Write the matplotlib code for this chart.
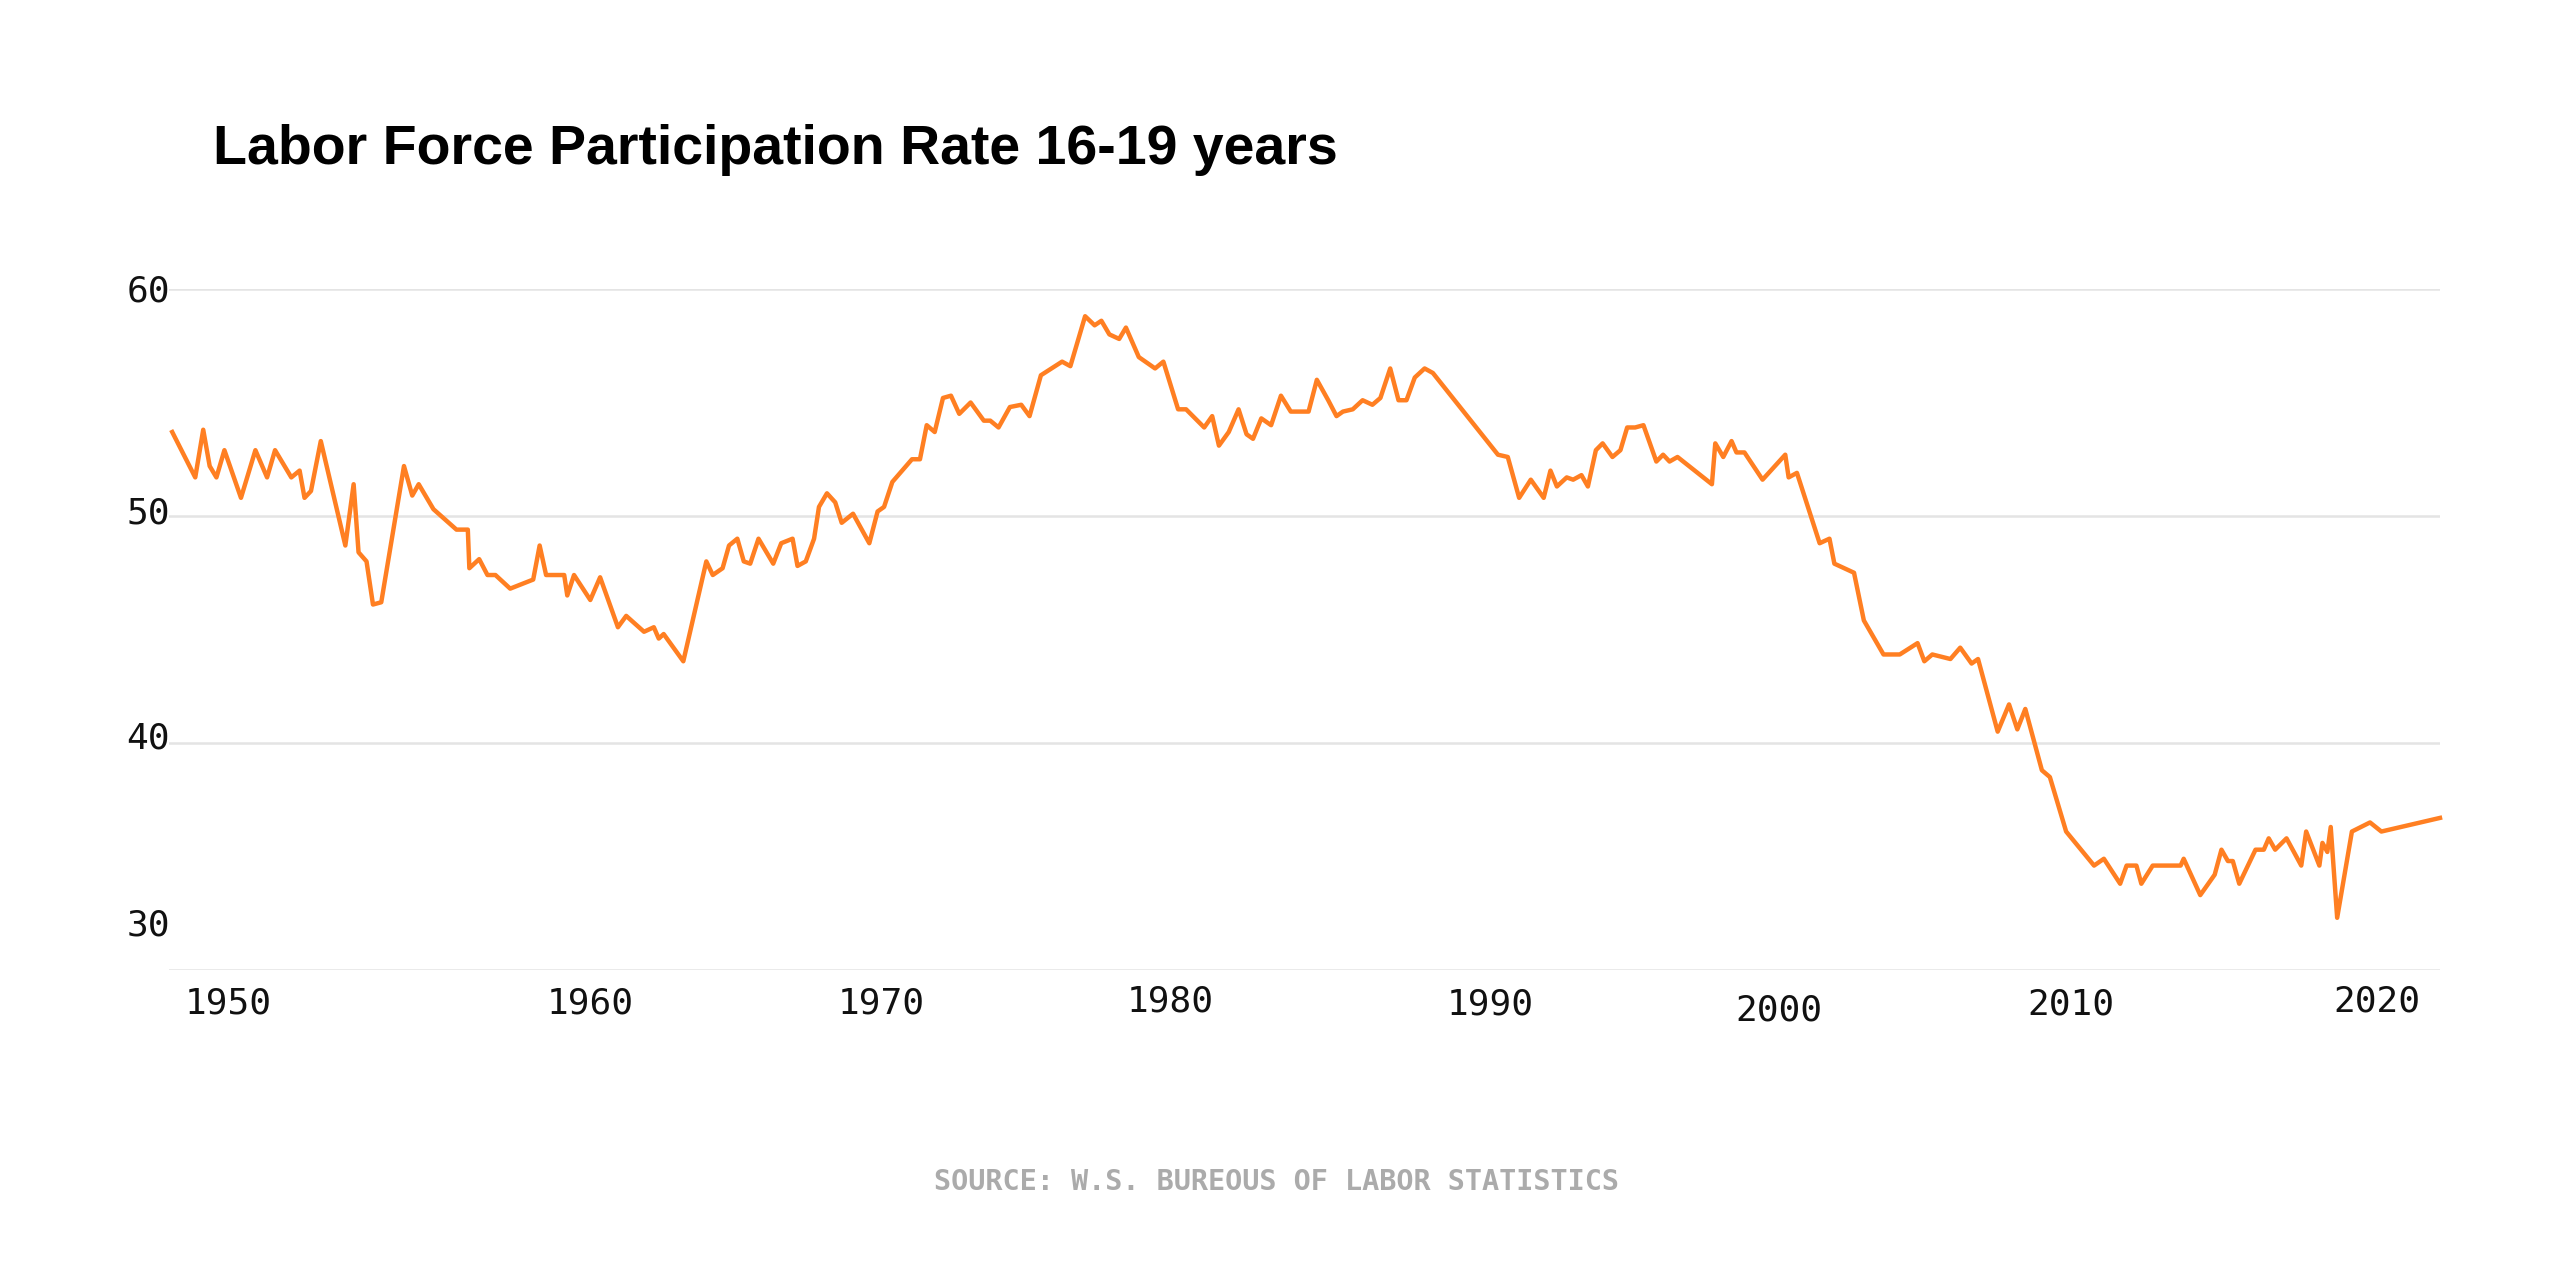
import matplotlib.pyplot as plt
from matplotlib.transforms import offset_copy

# values (x in fractional years)
years = [
    1948.19, 1948.94, 1949.20, 1949.41, 1949.63, 1949.89, 1950.43, 1950.90, 1951.28, 1951.54,
    1952.07, 1952.34, 1952.50, 1952.71, 1953.03, 1953.83, 1954.10, 1954.26, 1954.52, 1954.73,
    1955.00, 1955.74, 1956.01, 1956.22, 1956.70, 1957.45, 1957.82, 1957.87, 1958.19, 1958.46,
    1958.72, 1959.20, 1959.95, 1960.16, 1960.37, 1960.96, 1961.06, 1961.28, 1961.81, 1962.13,
    1962.71, 1962.98, 1963.56, 1963.88, 1964.04, 1964.20, 1964.84, 1965.59, 1965.80, 1966.12,
    1966.33, 1966.60, 1966.81, 1967.02, 1967.29, 1967.77, 1968.03, 1968.40, 1968.56, 1968.83,
    1969.10, 1969.26, 1969.52, 1969.79, 1970.00, 1970.37, 1970.90, 1971.17, 1971.38, 1971.65,
    1972.29, 1972.55, 1972.77, 1973.03, 1973.30, 1973.56, 1973.83, 1974.20, 1974.63, 1974.84,
    1975.11, 1975.48, 1975.85, 1976.12, 1976.49, 1977.18, 1977.45, 1977.93, 1978.24, 1978.46,
    1978.72, 1979.04, 1979.26, 1979.68, 1980.21, 1980.48, 1980.96, 1981.22, 1981.81, 1982.07,
    1982.29, 1982.61, 1982.93, 1983.19, 1983.40, 1983.67, 1983.99, 1984.31, 1984.63, 1985.21,
    1985.48, 1985.85, 1986.12, 1986.33, 1986.65, 1986.97, 1987.29, 1987.55, 1987.87, 1988.14,
    1988.40, 1988.67, 1988.99, 1989.26, 1991.38, 1991.70, 1992.07, 1992.45, 1992.87, 1993.09,
    1993.30, 1993.62, 1993.83, 1994.10, 1994.31, 1994.57, 1994.79, 1995.11, 1995.37, 1995.59,
    1995.85, 1996.12, 1996.54, 1996.76, 1996.97, 1997.23, 1998.35, 1998.46, 1998.72, 1998.99,
    1999.15, 1999.41, 2000.00, 2000.74, 2000.85, 2001.12, 2001.86, 2002.18, 2002.34, 2002.98,
    2003.30, 2003.94, 2004.47, 2005.05, 2005.27, 2005.53, 2006.12, 2006.44, 2006.81, 2007.02,
    2007.66, 2008.03, 2008.30, 2008.56, 2009.10, 2009.36, 2009.89, 2010.80, 2011.12, 2011.65,
    2011.86, 2012.18, 2012.34, 2012.71, 2013.62, 2013.72, 2014.26, 2014.73, 2014.95, 2015.16,
    2015.32, 2015.53, 2016.06, 2016.33, 2016.49, 2016.70, 2017.07, 2017.55, 2017.71, 2018.14,
    2018.24, 2018.40, 2018.51, 2018.72, 2019.20, 2019.79, 2020.16, 2022.07,
]
rate = [
    53.7, 51.7, 53.8, 52.2, 51.7, 52.9, 50.8, 52.9, 51.7, 52.9,
    51.7, 52.0, 50.8, 51.1, 53.3, 48.7, 51.4, 48.4, 48.0, 46.1,
    46.2, 52.2, 50.9, 51.4, 50.3, 49.4, 49.4, 47.7, 48.1, 47.4,
    47.4, 46.8, 47.2, 48.7, 47.4, 47.4, 46.5, 47.4, 46.3, 47.3,
    45.1, 45.6, 44.9, 45.1, 44.6, 44.8, 43.6, 48.0, 47.4, 47.7,
    48.7, 49.0, 48.0, 47.9, 49.0, 47.9, 48.8, 49.0, 47.8, 48.0,
    49.0, 50.4, 51.0, 50.6, 49.7, 50.1, 48.8, 50.2, 50.4, 51.5,
    52.5, 52.5, 54.0, 53.7, 55.2, 55.3, 54.5, 55.0, 54.2, 54.2,
    53.9, 54.8, 54.9, 54.4, 56.2, 56.8, 56.6, 58.8, 58.4, 58.6,
    58.0, 57.8, 58.3, 57.0, 56.5, 56.8, 54.7, 54.7, 53.9, 54.4,
    53.1, 53.7, 54.7, 53.6, 53.4, 54.3, 54.0, 55.3, 54.6, 54.6,
    56.0, 55.1, 54.4, 54.6, 54.7, 55.1, 54.9, 55.2, 56.5, 55.1,
    55.1, 56.1, 56.5, 56.3, 52.7, 52.6, 50.8, 51.6, 50.8, 52.0,
    51.3, 51.7, 51.6, 51.8, 51.3, 52.9, 53.2, 52.6, 52.9, 53.9,
    53.9, 54.0, 52.4, 52.7, 52.4, 52.6, 51.4, 53.2, 52.6, 53.3,
    52.8, 52.8, 51.6, 52.7, 51.7, 51.9, 48.8, 49.0, 47.9, 47.5,
    45.4, 43.9, 43.9, 44.4, 43.6, 43.9, 43.7, 44.2, 43.5, 43.7,
    40.5, 41.7, 40.6, 41.5, 38.8, 38.5, 36.1, 34.6, 34.9, 33.8,
    34.6, 34.6, 33.8, 34.6, 34.6, 34.9, 33.3, 34.2, 35.3, 34.8,
    34.8, 33.8, 35.3, 35.3, 35.8, 35.3, 35.8, 34.6, 36.1, 34.6,
    35.6, 35.2, 36.3, 32.3, 36.1, 36.5, 36.1, 36.7,
]

y_ticks = [60, 50, 40, 30]
x_tick_labels = ["1950", "1960", "1970", "1980", "1990", "2000", "2010", "2020"]
x_tick_pos = [1950.0, 1961.81, 1971.28, 1980.69, 1991.12, 2000.53, 2010.05, 2020.0]

# small label nudges (points) as in the original layout
x_label_dy = [24, 24, 24, 22.5, 25, 29, 24.5, 23]
y_label_dy = [-1.5, 2, 3, 32]

W, H = 2560, 1279
fig = plt.figure(figsize=(W / 100, H / 100), dpi=100)
ax = fig.add_axes([169 / W, 1 - 970 / H, (2440 - 169) / W, (970 - 289) / H])

for v in y_ticks:
    ax.axhline(v, color="#e4e4e4", lw=1.8, zorder=0)

ax.plot(years, rate, color="#ff7f22", lw=3.2, solid_joinstyle="round", clip_on=False, zorder=3)

ax.set_xlim(1948.085, 2022.07)
ax.set_ylim(30, 60)
for s in ax.spines.values():
    s.set_visible(False)
ax.set_xticks([])
ax.set_yticks([])

mono = "DejaVu Sans Mono"
for v, dy in zip(y_ticks, y_label_dy):
    tr = offset_copy(ax.get_yaxis_transform(), fig=fig, x=-15, y=dy, units="points")
    ax.text(0, v, str(v), transform=tr, ha="center", va="center",
            fontsize=26, family=mono, color="#111111")

for pos, lab, dy in zip(x_tick_pos, x_tick_labels, x_label_dy):
    tr = offset_copy(ax.get_xaxis_transform(), fig=fig, x=0, y=-dy, units="points")
    ax.text(pos, 0, lab, transform=tr, ha="center", va="center",
            fontsize=26, family=mono, color="#111111")

fig.text(213 / W, 1 - 164 / H, "Labor Force Participation Rate 16-19 years",
         ha="left", va="baseline", fontsize=40, fontweight="bold",
         family="Liberation Sans", color="black")

fig.text(1276 / W, 1 - 1182 / H, "SOURCE: W.S. BUREOUS OF LABOR STATISTICS",
         ha="center", va="center", fontsize=20.5, fontweight="bold",
         family=mono, color="#ababab")

fig.savefig("out.png", dpi=100, facecolor="white")
